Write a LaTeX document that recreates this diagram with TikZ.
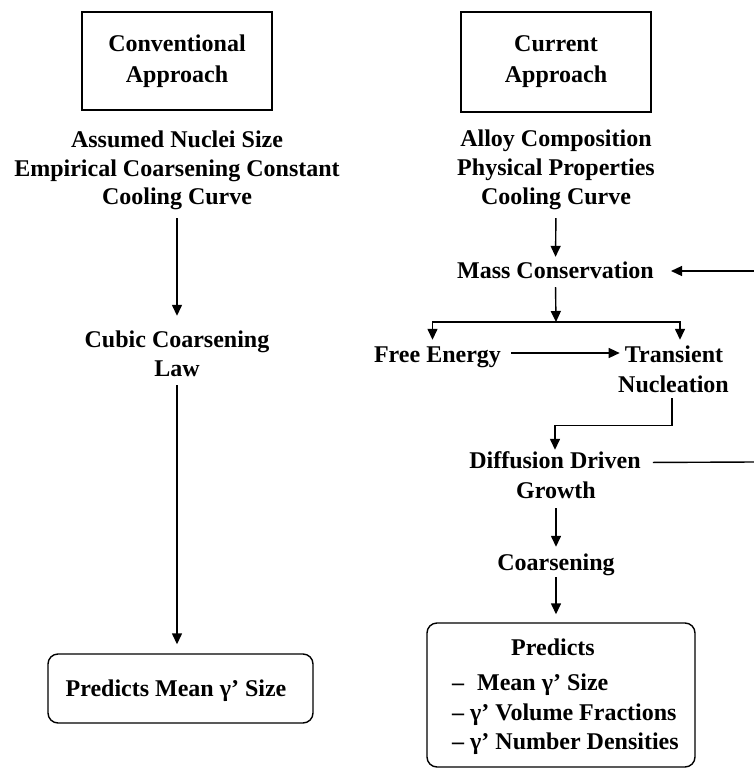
\documentclass[tikz,border=0pt]{standalone}
\usepackage{fontspec}
\setmainfont{Liberation Serif}
\usetikzlibrary{arrows.meta}
\newcommand\flowfont{\fontsize{24}{30}\selectfont\bfseries}
\tikzset{
  txt/.style={font=\flowfont, inner sep=0pt, text height=17pt, text depth=6pt, anchor=base},
  txtw/.style={txt, anchor=base west},
  sqbox/.style={draw, line width=1.4pt, font=\flowfont, align=center, inner sep=0pt},
  rbox/.style={draw, line width=1.4pt, rounded corners=10pt, inner sep=0pt},
  arr/.style={line width=1.4pt, -{Triangle[length=11pt,width=10pt]}},
  ln/.style={line width=1.4pt},
}
\begin{document}
\begin{tikzpicture}[x=1pt,y=-1pt]
\useasboundingbox (0,0) rectangle (754,769);
% ---------- left column ----------
\node[sqbox, minimum width=190pt, minimum height=98pt] (convbox) at (177,61) {Conventional\\[1pt]Approach};
\node[txt] (aL) at (177,147) {Assumed Nuclei Size};
\node[txt] (eL) at (177,176) {Empirical Coarsening Constant};
\node[txt] (ccL) at (177,204) {Cooling Curve};
\node[txt] (cubic) at (177,347) {Cubic Coarsening};
\node[txt] (law) at (177,376) {Law};
\node[rbox, minimum width=265pt, minimum height=69pt] (predL) at (180.5,688.5) {};
\node[txt] (predLt) at (176,696) {Predicts Mean γ’ Size};
\draw[arr, shorten <=8pt, shorten >=14pt] (ccL.south) -- (cubic.north);
\draw[arr, shorten <=3pt, shorten >=9pt] (law.south) -- (law.south |- predL.north);
% ---------- right column ----------
\node[sqbox, minimum width=190pt, minimum height=100pt] (curbox) at (556,62) {Current\\[1pt]Approach};
\node[txt] (aR) at (556,146) {Alloy Composition};
\node[txt] (pR) at (556,175) {Physical Properties};
\node[txt] (ccR) at (556,204) {Cooling Curve};
\node[txt] (mc) at (555.5,278) {Mass Conservation};
\node[txt] (fe) at (437.5,362) {Free Energy};
\node[txt] (tr) at (674,362) {Transient};
\node[txt] (nuc) at (673.5,392) {Nucleation};
\node[txt] (diff) at (555,468) {Diffusion Driven};
\node[txt] (gr) at (556,498) {Growth};
\node[txt] (coars) at (556,570) {Coarsening};
\node[rbox, minimum width=268pt, minimum height=144pt] (predR) at (561,695) {};
\node[txt] (predRt) at (553,655) {Predicts};
\node[txtw] (p1) at (452,690) {–\hspace{13pt}Mean γ’ Size};
\node[txtw] (p2) at (452,720) {– γ’ Volume Fractions};
\node[txtw] (p3) at (452,749) {– γ’ Number Densities};
\coordinate (bar) at (556,322);
\coordinate (fbT) at (754,271);
\coordinate (fbR) at (754,462);
\draw[arr, shorten <=8pt, shorten >=4pt] (ccR.south) -- (mc.north);
\draw[arr, shorten <=3pt] (mc.south) -- (bar);
\draw[arr, shorten >=5pt] (bar) -| ([xshift=-5pt]fe.north);
\draw[arr, shorten >=5pt] (bar) -| ([xshift=6pt]tr.north);
\draw[arr, shorten <=10pt, shorten >=5pt] ([yshift=3.5pt]fe.east) -- ([yshift=3.5pt]tr.west);
\draw[arr, shorten >=1pt] ([xshift=-1.5pt]nuc.south) -- ++(0,27) -| (diff.north);
\draw[ln, shorten <=12pt] (diff.east) -- (fbR);
\draw[arr, shorten >=17pt] (fbT) -- (mc.east |- fbT);
\draw[arr, shorten <=4pt, shorten >=6pt] (gr.south) -- (coars.north);
\draw[arr, shorten <=1pt, shorten >=8pt] (coars.south) -- (coars.south |- predR.north);
\end{tikzpicture}
\end{document}
